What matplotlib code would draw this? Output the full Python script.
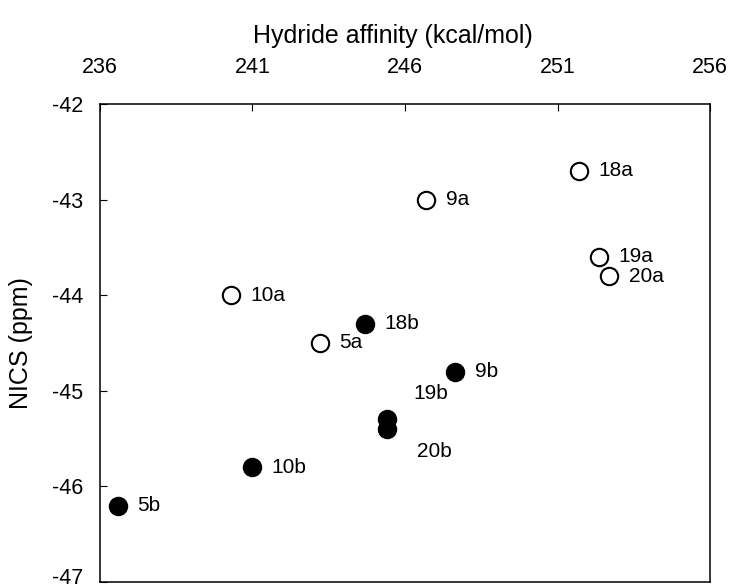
import matplotlib.pyplot as plt
import matplotlib.transforms as mtransforms
import numpy as np

plt.rcParams['font.family'] = ['Liberation Sans', 'DejaVu Sans']
plt.rcParams['axes.unicode_minus'] = False

# open circles (a series)
labels_a = ["18a", "19a", "20a", "9a", "10a", "5a"]
ha_a = [251.7, 252.35, 252.7, 246.7, 240.3, 243.2]
nics_a = [-42.7, -43.6, -43.8, -43.0, -44.0, -44.5]

# filled circles (b series)
labels_b = ["18b", "9b", "19b", "20b", "10b", "5b"]
ha_b = [244.7, 247.65, 245.4, 245.4, 241.0, 236.6]
nics_b = [-44.3, -44.8, -45.3, -45.4, -45.8, -46.2]

fig = plt.figure(figsize=(7.29, 5.88), dpi=100)
ax = fig.add_axes([0.137, 0.0102, 0.837, 0.813])

ax.plot(ha_a, nics_a, 'o', ms=12.5, mfc='white', mec='black', mew=1.5, clip_on=False)
ax.plot(ha_b, nics_b, 'o', ms=12.5, mfc='black', mec='black', mew=1.5, clip_on=False)

# label offsets in points
offsets = {"19b": (19, 19), "20b": (22, -16)}
for lab, x, y in zip(labels_a + labels_b, ha_a + ha_b, nics_a + nics_b):
    dx, dy = offsets.get(lab, (14, 0))
    ax.annotate(lab, (x, y), xytext=(dx, dy), textcoords='offset points',
                va='center', ha='left', fontsize=15)

ax.set_xlim(236, 256)
ax.set_ylim(-47, -42)
ax.set_xticks(np.arange(236, 257, 5))
ax.set_yticks(np.arange(-47, -41, 1))
ax.xaxis.tick_top()
ax.xaxis.set_label_position('top')
ax.tick_params(direction='in', length=5, labelsize=15.5, width=0.8)
ax.tick_params(axis='x', pad=19)
ax.tick_params(axis='y', pad=12)
ax.set_xlabel("Hydride affinity (kcal/mol)", fontsize=18)
ax.xaxis.set_label_coords(0.48, 1.118)
ax.xaxis.label.set_va('bottom')
ax.set_ylabel("NICS (ppm)", fontsize=18, labelpad=14)
for s in ax.spines.values():
    s.set_linewidth(1.1)

# nudge the bottom tick label up so it stays inside the figure
lbl = ax.get_yticklabels()[0]
lbl.set_transform(lbl.get_transform() + mtransforms.ScaledTranslation(0, 4 / 72, fig.dpi_scale_trans))

fig.savefig("out.png", dpi=100)
